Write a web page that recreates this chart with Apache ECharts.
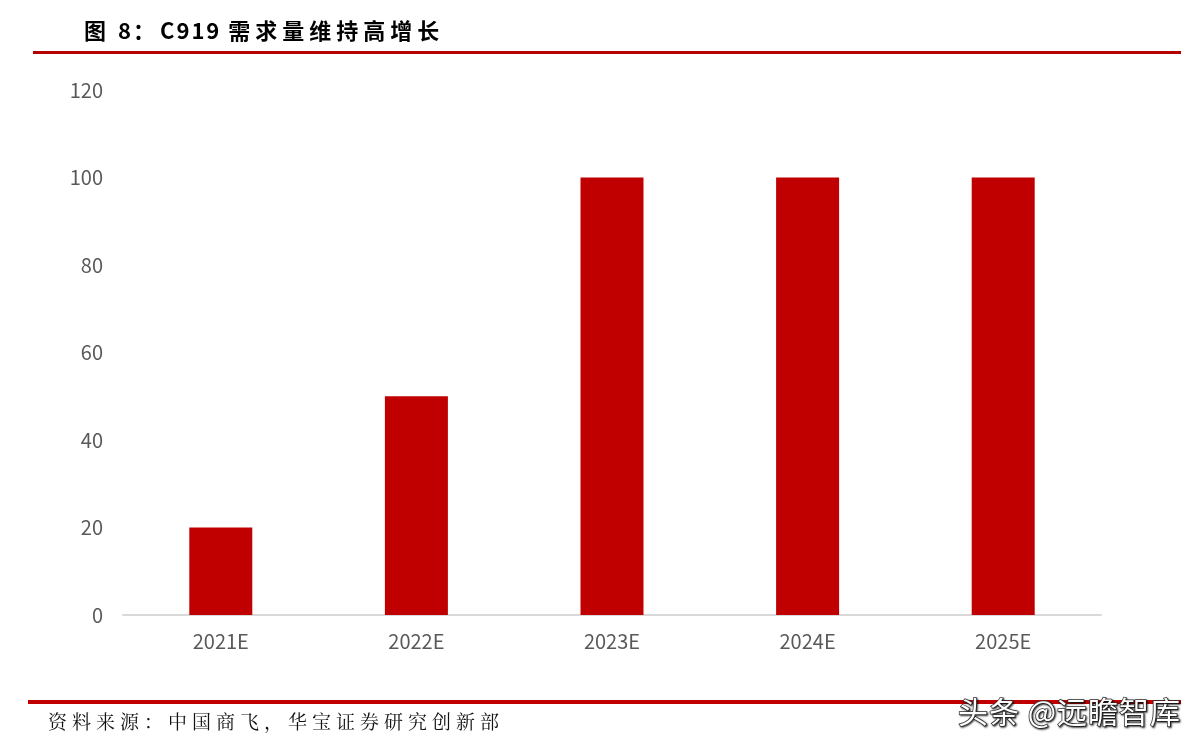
<!DOCTYPE html>
<html><head><meta charset="utf-8">
<script src="https://cdn.jsdelivr.net/npm/echarts@6/dist/echarts.min.js"></script>
<style>html,body{margin:0;padding:0;background:#fff}#c{width:1199px;height:747px}</style>
</head><body><div id="c"></div>
<script>
var categories = ['2021E','2022E','2023E','2024E','2025E'];
var demand = [20, 50, 100, 100, 100];
var yTicks = [0, 20, 40, 60, 80, 100, 120];
var titleText = '图 8：C919 需求量维持高增长';
var sourceText = '资料来源：中国商飞，华宝证券研究创新部';
var markText = '头条 @远瞻智库';

var ctx = document.createElement('canvas').getContext('2d');
function spaced(str, x0, yMid, font, cjkSpacing, latinSpacing, style) {
  ctx.font = font;
  var out = [], x = x0;
  for (var i = 0; i < str.length; i++) {
    var ch = str[i];
    var s = Object.assign({text: ch, font: font, x: x, y: yMid, textVerticalAlign: 'middle', textAlign: 'left'}, style);
    out.push({type: 'text', style: s, z: 10});
    var cjk = ch.charCodeAt(0) > 0x2E80;
    x += ctx.measureText(ch).width + (cjk ? cjkSpacing : latinSpacing);
  }
  return out;
}

var chart = echarts.init(document.getElementById('c'));
var graphics = [
  {type: 'rect', shape: {x: 33, y: 51, width: 1148, height: 3}, style: {fill: '#B40000'}},
  {type: 'rect', shape: {x: 28, y: 700, width: 1153, height: 4}, style: {fill: '#C00000'}}
].concat(
  spaced(titleText, 84, 31, 'bold 22px "Noto Sans CJK SC"', 5, 2, {fill: '#000'}),
  spaced(sourceText, 48, 722, '19px "Noto Serif CJK SC", "Noto Sans CJK SC"', 5, 5, {fill: '#111'}),
  spaced(markText, 958, 712, '30px "Noto Sans CJK SC"', 1, 1, {fill: '#fff', stroke: '#333', lineWidth: 1.5, textShadowColor: 'rgba(0,0,0,0.7)', textShadowBlur: 2, textShadowOffsetX: 1, textShadowOffsetY: 1})
);

chart.setOption({
  animation: false,
  backgroundColor: '#fff',
  grid: {left: 123, right: 98, top: 90, bottom: 132},
  xAxis: {
    type: 'category', data: categories,
    axisLine: {lineStyle: {color: '#d9d9d9', width: 2}},
    axisTick: {show: false},
    axisLabel: {color: '#595959', fontSize: 20, margin: 16, fontFamily: 'Noto Sans CJK SC'}
  },
  yAxis: {
    type: 'value', min: yTicks[0], max: yTicks[yTicks.length-1], interval: 20,
    splitLine: {show: false}, axisLine: {show: false}, axisTick: {show: false},
    axisLabel: {color: '#595959', fontSize: 20, margin: 20, fontFamily: 'Noto Sans CJK SC'}
  },
  series: [{type: 'bar', data: demand, barWidth: 63, itemStyle: {color: '#C00000'}}],
  graphic: graphics
});
</script></body></html>
